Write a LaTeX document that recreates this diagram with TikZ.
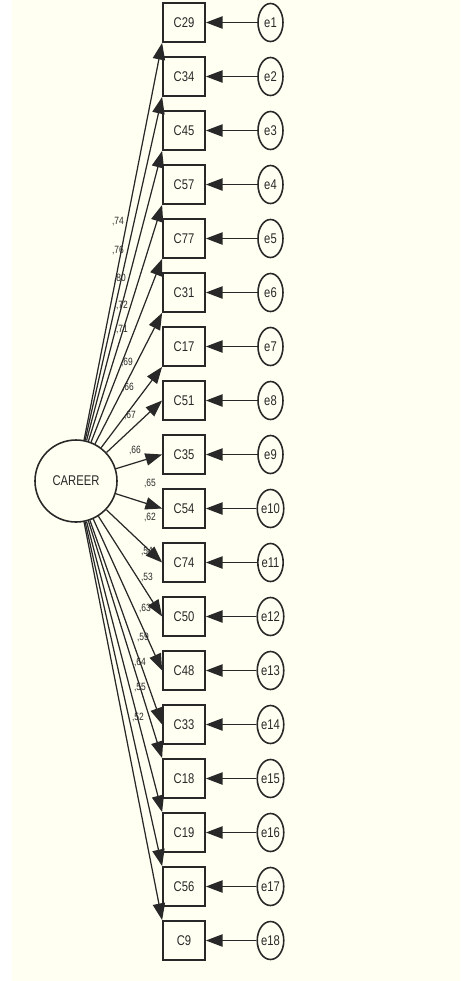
\documentclass[tikz,border=0pt]{standalone}
\usepackage{fontspec}
\setmainfont{Liberation Sans}
\newfontfamily\narrowsf[FakeStretch=0.8]{Liberation Sans}
\usepackage{tikz}
\usetikzlibrary{arrows.meta,shapes.geometric}
\usepackage{xcolor}
\definecolor{canvas}{RGB}{255,255,242}
\definecolor{ink}{RGB}{40,40,40}

\begin{document}
\begin{tikzpicture}[
    font=\narrowsf\fontsize{8}{9}\selectfont,
    obs/.style={draw=ink, line width=1pt, minimum width=0.84cm, minimum height=0.78cm, inner sep=0pt, text=ink, fill=canvas},
    err/.style={draw=ink, line width=0.9pt, ellipse, minimum width=0.5cm, minimum height=0.76cm, inner sep=0pt, text=ink, fill=canvas},
    lat/.style={draw=ink, line width=0.9pt, circle, minimum size=1.64cm, inner sep=0pt, text=ink, fill=canvas},
    ar/.style={-{Triangle[length=9.5pt,width=7pt]}, line width=0.7pt, draw=ink},
    wt/.style={font=\narrowsf\fontsize{6}{7}\selectfont, text=ink, inner sep=0pt},
  ]
    \useasboundingbox (0,0) rectangle (9.2,-19.62);
    \fill[canvas] (0.24,0) rectangle (9.2,-19.62);

    % latent variable
    \node[lat] (career) at (1.52,-9.62) {CAREER};

    % observed items
    \node[obs] (c29) at (3.68,-0.45) {C29};
    \node[obs] (c34) at (3.68,-1.53) {C34};
    \node[obs] (c45) at (3.68,-2.61) {C45};
    \node[obs] (c57) at (3.68,-3.69) {C57};
    \node[obs] (c77) at (3.68,-4.77) {C77};
    \node[obs] (c31) at (3.68,-5.85) {C31};
    \node[obs] (c17) at (3.68,-6.93) {C17};
    \node[obs] (c51) at (3.68,-8.01) {C51};
    \node[obs] (c35) at (3.68,-9.09) {C35};
    \node[obs] (c54) at (3.68,-10.17) {C54};
    \node[obs] (c74) at (3.68,-11.25) {C74};
    \node[obs] (c50) at (3.68,-12.33) {C50};
    \node[obs] (c48) at (3.68,-13.41) {C48};
    \node[obs] (c33) at (3.68,-14.49) {C33};
    \node[obs] (c18) at (3.68,-15.57) {C18};
    \node[obs] (c19) at (3.68,-16.65) {C19};
    \node[obs] (c56) at (3.68,-17.73) {C56};
    \node[obs] (c9) at (3.68,-18.81) {C9};

    % error terms
    \node[err] (e1) at (5.41,-0.45) {e1};
    \node[err] (e2) at (5.41,-1.53) {e2};
    \node[err] (e3) at (5.41,-2.61) {e3};
    \node[err] (e4) at (5.41,-3.69) {e4};
    \node[err] (e5) at (5.41,-4.77) {e5};
    \node[err] (e6) at (5.41,-5.85) {e6};
    \node[err] (e7) at (5.41,-6.93) {e7};
    \node[err] (e8) at (5.41,-8.01) {e8};
    \node[err] (e9) at (5.41,-9.09) {e9};
    \node[err] (e10) at (5.41,-10.17) {e10};
    \node[err] (e11) at (5.41,-11.25) {e11};
    \node[err] (e12) at (5.41,-12.33) {e12};
    \node[err] (e13) at (5.41,-13.41) {e13};
    \node[err] (e14) at (5.41,-14.49) {e14};
    \node[err] (e15) at (5.41,-15.57) {e15};
    \node[err] (e16) at (5.41,-16.65) {e16};
    \node[err] (e17) at (5.41,-17.73) {e17};
    \node[err] (e18) at (5.41,-18.81) {e18};

    % loadings
    \draw[ar] (career) -- (c29.south west);
    \draw[ar] (career) -- (c34.south west);
    \draw[ar] (career) -- (c45.south west);
    \draw[ar] (career) -- (c57.south west);
    \draw[ar] (career) -- (c77.south west);
    \draw[ar] (career) -- (c31.south west);
    \draw[ar] (career) -- (c17.south west);
    \draw[ar] (career) -- (c51.west);
    \draw[ar] (career) -- (c35.west);
    \draw[ar] (career) -- (c54.west);
    \draw[ar] (career) -- (c74.west);
    \draw[ar] (career) -- (c50.west);
    \draw[ar] (career) -- (c48.west);
    \draw[ar] (career) -- (c33.west);
    \draw[ar] (career) -- (c18.north west);
    \draw[ar] (career) -- (c19.north west);
    \draw[ar] (career) -- (c56.north west);
    \draw[ar] (career) -- (c9.north west);

    % errors into items
    \draw[ar] (e1) -- (c29);
    \draw[ar] (e2) -- (c34);
    \draw[ar] (e3) -- (c45);
    \draw[ar] (e4) -- (c57);
    \draw[ar] (e5) -- (c77);
    \draw[ar] (e6) -- (c31);
    \draw[ar] (e7) -- (c17);
    \draw[ar] (e8) -- (c51);
    \draw[ar] (e9) -- (c35);
    \draw[ar] (e10) -- (c54);
    \draw[ar] (e11) -- (c74);
    \draw[ar] (e12) -- (c50);
    \draw[ar] (e13) -- (c48);
    \draw[ar] (e14) -- (c33);
    \draw[ar] (e15) -- (c18);
    \draw[ar] (e16) -- (c19);
    \draw[ar] (e17) -- (c56);
    \draw[ar] (e18) -- (c9);

    % standardized weights
    \node[wt] (w1) at (2.36,-4.44) {,74};
    \node[wt] (w2) at (2.36,-5.00) {,76};
    \node[wt] (w3) at (2.40,-5.56) {,80};
    \node[wt] (w4) at (2.44,-6.10) {,72};
    \node[wt] (w5) at (2.44,-6.60) {,71};
    \node[wt] (w6) at (2.54,-7.24) {,69};
    \node[wt] (w7) at (2.56,-7.74) {,66};
    \node[wt] (w8) at (2.60,-8.30) {,67};
    \node[wt] (w9) at (2.70,-9.00) {,66};
    \node[wt] (w10) at (3.00,-9.66) {,65};
    \node[wt] (w11) at (3.00,-10.34) {,62};
    \node[wt] (w12) at (2.94,-11.04) {,54};
    \node[wt] (w13) at (2.94,-11.54) {,53};
    \node[wt] (w14) at (2.90,-12.16) {,63};
    \node[wt] (w15) at (2.86,-12.74) {,59};
    \node[wt] (w16) at (2.80,-13.24) {,64};
    \node[wt] (w17) at (2.80,-13.76) {,55};
    \node[wt] (w18) at (2.76,-14.34) {,52};
  \end{tikzpicture}
\end{document}
